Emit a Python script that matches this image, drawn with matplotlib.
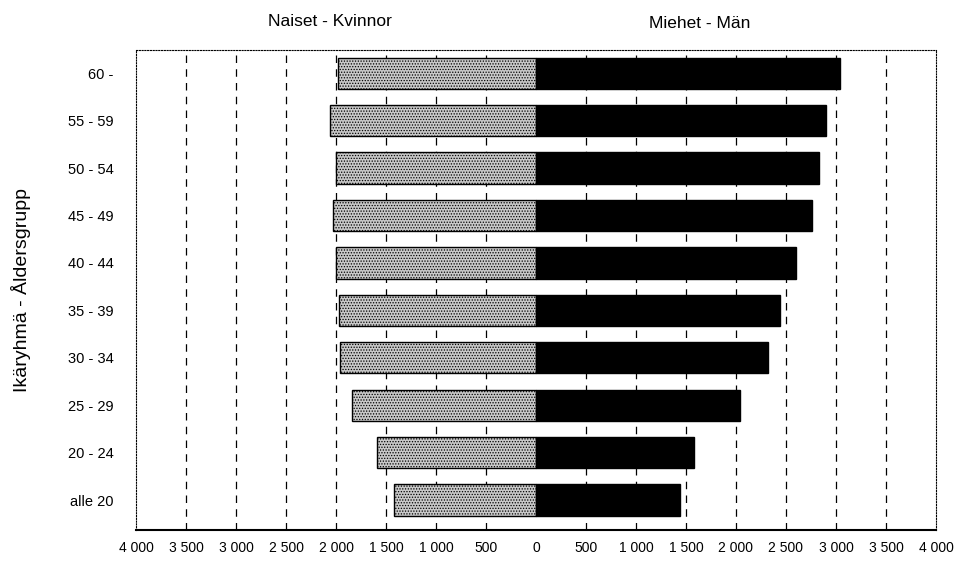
import numpy as np
import matplotlib.pyplot as plt

plt.rcParams['font.family'] = ['Liberation Sans', 'DejaVu Sans']
plt.rcParams['hatch.color'] = '#6e6e6e'
plt.rcParams['hatch.linewidth'] = 0.6

# Age groups, bottom to top
age_groups = ['alle 20', '20 - 24', '25 - 29', '30 - 34', '35 - 39',
              '40 - 44', '45 - 49', '50 - 54', '55 - 59', '60 -']
women = [1420, 1590, 1840, 1960, 1970, 2000, 2030, 2000, 2060, 1985]
men = [1445, 1585, 2040, 2320, 2440, 2600, 2760, 2835, 2905, 3040]

ticks = np.arange(-4000, 4001, 500)
tick_labels = [f"{abs(t):,}".replace(',', ' ') for t in ticks]

fig = plt.figure(figsize=(9.58, 5.62), dpi=100)
ax = fig.add_axes([0.142, 0.057, 0.835, 0.854])

y = np.arange(len(age_groups))
h = 0.66

# Dashed gridlines
for t in ticks[1:-1]:
    if t == 0:
        continue
    ax.axvline(t, color='black', linestyle=(0, (6, 5)), linewidth=0.9, zorder=0)

ax.barh(y, [-w for w in women], height=h, color='#c8c8c8', edgecolor='black',
        linewidth=1.0, hatch='......', zorder=2)
ax.barh(y, men, height=h, color='black', edgecolor='black', linewidth=1.0, zorder=2)

ax.set_xlim(-4000, 4000)
ax.set_ylim(-0.63, 9.49)
ax.set_xticks(ticks)
ax.set_xticklabels(tick_labels, fontsize=10)
ax.set_yticks(y)
ax.set_yticklabels(age_groups, fontsize=10.5)
ax.tick_params(axis='both', length=0, pad=8)
ax.tick_params(axis='y', pad=16)

for side in ['top', 'left', 'right']:
    ax.spines[side].set_linestyle((0, (1, 1.5)))
    ax.spines[side].set_linewidth(0.8)
ax.spines['bottom'].set_linewidth(1.5)

ax.set_ylabel('Ikäryhmä - Åldersgrupp', fontsize=14)
ax.yaxis.set_label_coords(-(136 - 31) / 800, 0.5)

fig.text(330 / 958, 1 - 22 / 562, 'Naiset - Kvinnor', fontsize=12.5, ha='center', va='center')
fig.text(700 / 958, 1 - 24 / 562, 'Miehet - Män', fontsize=12.5, ha='center', va='center')

fig.savefig('out.png', dpi=100)
